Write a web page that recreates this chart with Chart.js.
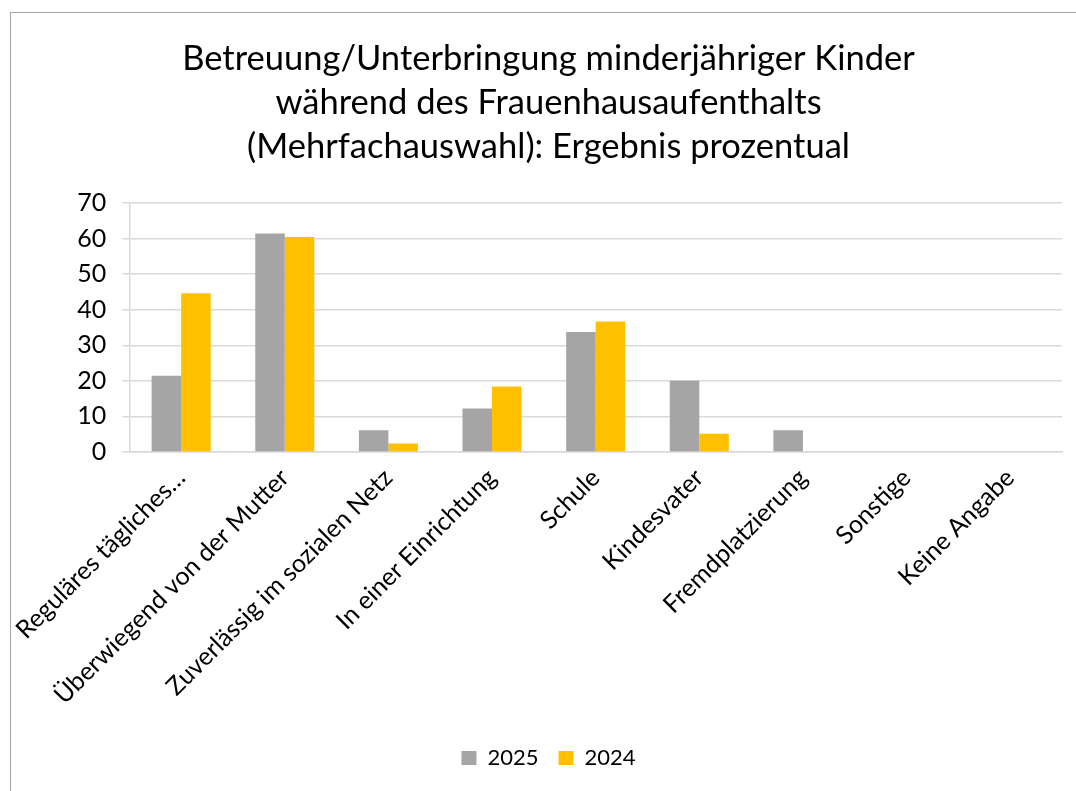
<!DOCTYPE html>
<html>
<head>
<meta charset="utf-8">
<script src="https://cdn.jsdelivr.net/npm/chart.js@4"></script>
<style>
  html, body { margin: 0; padding: 0; background: #fff; overflow: hidden; }
  #frame {
    position: absolute; left: 10px; top: 12px;
    width: 1080px; height: 800px;
    border: 1px solid #a6a6a6; background: #fff;
  }
  #wrap { position: absolute; left: 0; top: 0; width: 1065px; height: 778px; }
</style>
</head>
<body>
<div id="frame"><div id="wrap"><canvas id="chart"></canvas></div></div>
<script>
const categories = [
  "Reguläres tägliches…",
  "Überwiegend von der Mutter",
  "Zuverlässig im sozialen Netz",
  "In einer Einrichtung",
  "Schule",
  "Kindesvater",
  "Fremdplatzierung",
  "Sonstige",
  "Keine Angabe",
];
const werte2025 = [21.4, 61.4, 6.1, 12.2, 33.7, 20.0, 6.1, 0, 0];
const werte2024 = [44.6, 60.4, 2.4, 18.4, 36.7, 5.1, 0, 0, 0];
const titleLines = [
  "Betreuung/Unterbringung minderjähriger Kinder",
  "während des Frauenhausaufenthalts",
  "(Mehrfachauswahl): Ergebnis prozentual",
];

const FONT = "Lato, 'Open Sans', sans-serif";

const ctx = document.getElementById("chart").getContext("2d");
new Chart(ctx, {
  type: "bar",
  data: {
    labels: categories,
    datasets: [
      {
        label: "2025",
        data: werte2025,
        backgroundColor: "#A5A5A5",
        categoryPercentage: 0.57,
        barPercentage: 1,
      },
      {
        label: "2024",
        data: werte2024,
        backgroundColor: "#FFC000",
        categoryPercentage: 0.57,
        barPercentage: 1,
      },
    ],
  },
  options: {
    responsive: true,
    maintainAspectRatio: false,
    animation: false,
    layout: {
      padding: { left: 24, right: 14, top: 0, bottom: 12 },
    },
    plugins: {
      title: {
        display: true,
        text: titleLines,
        color: "#000",
        font: { family: FONT, size: 34.5, weight: "normal", lineHeight: 1.275 },
        padding: { top: 24, bottom: 34 },
      },
      legend: {
        position: "bottom",
        labels: {
          color: "#000",
          font: { family: FONT, size: 22 },
          boxWidth: 15,
          boxHeight: 14,
          padding: 20,
        },
      },
      tooltip: { enabled: false },
    },
    scales: {
      x: {
        grid: { display: false },
        border: { display: true, color: "#D9D9D9", width: 1.5 },
        ticks: {
          color: "#000",
          font: { family: FONT, size: 25 },
          minRotation: 45,
          maxRotation: 45,
          autoSkip: false,
        },
        // leave room between the rotated labels and the legend
        afterFit: (scale) => {
          scale.height = 275;
        },
      },
      y: {
        min: 0,
        max: 70,
        grid: { color: "#D9D9D9", lineWidth: 1.5, tickLength: 7 },
        border: { display: true, color: "#D9D9D9", width: 1.5 },
        ticks: {
          stepSize: 10,
          color: "#000",
          font: { family: FONT, size: 25 },
          padding: 16,
        },
        afterFit: (scale) => {
          scale.width = 92;
        },
      },
    },
  },
});
</script>
</body>
</html>
